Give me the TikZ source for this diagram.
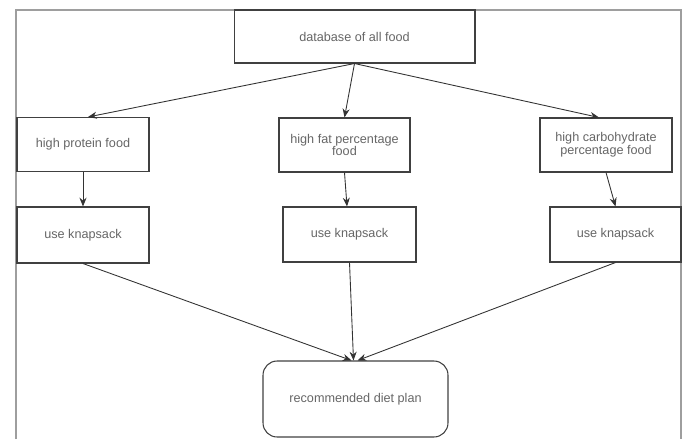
\documentclass[tikz,border=0pt]{standalone}
\usepackage{fontspec}
\setmainfont{Liberation Sans}
\usepackage{tikz}
\usetikzlibrary{positioning,arrows.meta}

\tikzset{
  frameline/.style={draw=black!38,line width=1.2pt},
  foodbox/.style={draw=black!75,line width=0.6pt,inner sep=2pt,align=center,
    font=\fontsize{7.2}{7.2}\selectfont,text=black!60},
  flow/.style={-{Stealth[length=5pt,width=4pt]},draw=black!80,line width=0.5pt}
}

\begin{document}
\begin{tikzpicture}[x=0.02cm,y=-0.02cm]
    \useasboundingbox (0,0) rectangle (685,439);
    % outer frame, open at the bottom
    \draw[frameline] (16,439) -- (16,10) -- (681,10) -- (681,439);
    % top node
    \node[foodbox,minimum width=4.82cm,minimum height=1.06cm] (db) at (354.5,36.5) {database of all food};
    % second row: the three food groups
    \node[foodbox,minimum width=2.64cm,minimum height=1.08cm] (protein) at (83,144.5) {high protein food};
    \node[foodbox,minimum width=2.62cm,minimum height=1.08cm] (fat) at (344.5,145) {high fat percentage\\food};
    \node[foodbox,minimum width=2.64cm,minimum height=1.08cm] (carb) at (606,145) {high carbohydrate\\percentage food};
    % third row: knapsack step
    \node[foodbox,minimum width=2.64cm,minimum height=1.12cm] (ksA) at (83,235) {use knapsack};
    \node[foodbox,minimum width=2.66cm,minimum height=1.1cm] (ksB) at (349.5,234.5) {use knapsack};
    \node[foodbox,minimum width=2.62cm,minimum height=1.1cm] (ksC) at (615.5,234.5) {use knapsack};
    % result
    \node[foodbox,rounded corners=8pt,minimum width=3.7cm,minimum height=1.52cm] (plan) at (355.5,399) {recommended diet plan};
    % arrows from database
    \draw[flow] (db.south) -- ([xshift=0.1cm]protein.north);
    \draw[flow] (db.south) -- (fat.north);
    \draw[flow] (db.south) -- ([xshift=-0.14cm]carb.north);
    % arrows to knapsack
    \draw[flow] (protein.south) -- (ksA.north);
    \draw[flow] (fat.south) -- ([xshift=-0.05cm]ksB.north);
    \draw[flow] (carb.south) -- (ksC.north);
    % arrows to diet plan
    \draw[flow] (ksA.south) -- ([xshift=-0.08cm]plan.north);
    \draw[flow] (ksB.south) -- ([xshift=-0.04cm]plan.north);
    \draw[flow] (ksC.south) -- ([xshift=0.04cm]plan.north);
\end{tikzpicture}
\end{document}
